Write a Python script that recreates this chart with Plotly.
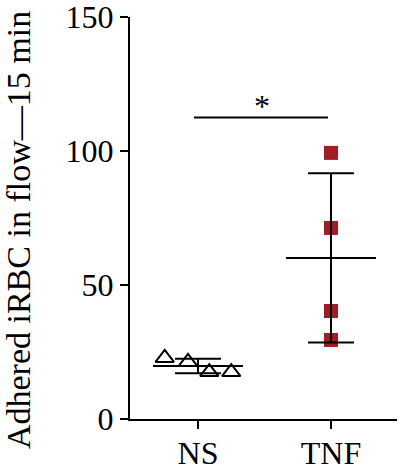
import numpy as np
import plotly.graph_objects as go

categories = ["NS", "TNF"]
ns_values = [22.8, 21.3, 17.5, 17.5]
tnf_values = [99.3, 71.3, 40.3, 29.5]
y_ticks = [0, 50, 100, 150]
y_title = "Adhered iRBC in flow\u201415 min"
sig_label = "*"

# layout / style constants
ns_spread = [-0.25, -0.075, 0.085, 0.25]
tnf_spread = [0, 0, 0, 0]
mean_half = 0.338
FONT = "Liberation Serif"
RED = "#A01D24"

groups = [ns_values, tnf_values]
means = [float(np.mean(g)) for g in groups]
sds = [float(np.std(g, ddof=1)) for g in groups]

fig = go.Figure()

fig.add_trace(go.Scatter(
    x=[0 + d for d in ns_spread], y=ns_values, mode="markers",
    marker=dict(symbol="triangle-up-open", size=16, color="black", line=dict(width=2)),
    showlegend=False, cliponaxis=False))
fig.add_trace(go.Scatter(
    x=[1 + d for d in tnf_spread], y=tnf_values, mode="markers",
    marker=dict(symbol="square", size=14, color=RED),
    showlegend=False, cliponaxis=False))

# mean lines
for i, m in enumerate(means):
    fig.add_trace(go.Scatter(x=[i - mean_half, i + mean_half], y=[m, m], mode="lines",
                             line=dict(color="black", width=2), showlegend=False, hoverinfo="skip"))

# SD error bars
fig.add_trace(go.Scatter(
    x=[0, 1], y=means, mode="markers", marker=dict(size=0.1, color="rgba(0,0,0,0)"),
    error_y=dict(type="data", array=sds, visible=True, color="black", thickness=2, width=23),
    showlegend=False, hoverinfo="skip"))

# significance bar
sig_y = 112.5
fig.add_trace(go.Scatter(x=[-0.03, 0.977], y=[sig_y, sig_y], mode="lines",
                         line=dict(color="black", width=2), showlegend=False, hoverinfo="skip"))
fig.add_annotation(x=0.48, y=sig_y, text=sig_label, showarrow=False, xref="x", yref="y",
                   yanchor="bottom", yshift=-8, font=dict(family=FONT, size=32, color="black"))

fig.add_annotation(text=y_title, textangle=-90, xref="paper", yref="paper", x=0, y=0.47,
                   xanchor="center", yanchor="middle", xshift=-112, showarrow=False,
                   font=dict(family=FONT, size=34, color="black"))

fig.update_layout(
    template="none",
    width=401, height=473,
    margin=dict(l=130, r=4, t=17, b=54),
    plot_bgcolor="white", paper_bgcolor="white",
    font=dict(family=FONT, size=32, color="black"),
    xaxis=dict(range=[-0.511, 1.496], tickvals=[0, 1], ticktext=categories, automargin=False,
               showline=True, linecolor="black", linewidth=2, ticks="outside",
               ticklen=8, tickwidth=2, tickcolor="black", showgrid=False, zeroline=False,
               ticklabelstandoff=-3, ticklabeloverflow="allow"),
    yaxis=dict(range=[0, 150.01], tickvals=y_ticks, showline=True, linecolor="black", automargin=False,
               linewidth=2, ticks="outside", ticklen=8, tickwidth=2, tickcolor="black",
               showgrid=False, zeroline=False, ticklabeloverflow="allow"),
)

fig.write_html("out.html", config={"displayModeBar": False},
               post_script="document.body.style.margin='0px';")
